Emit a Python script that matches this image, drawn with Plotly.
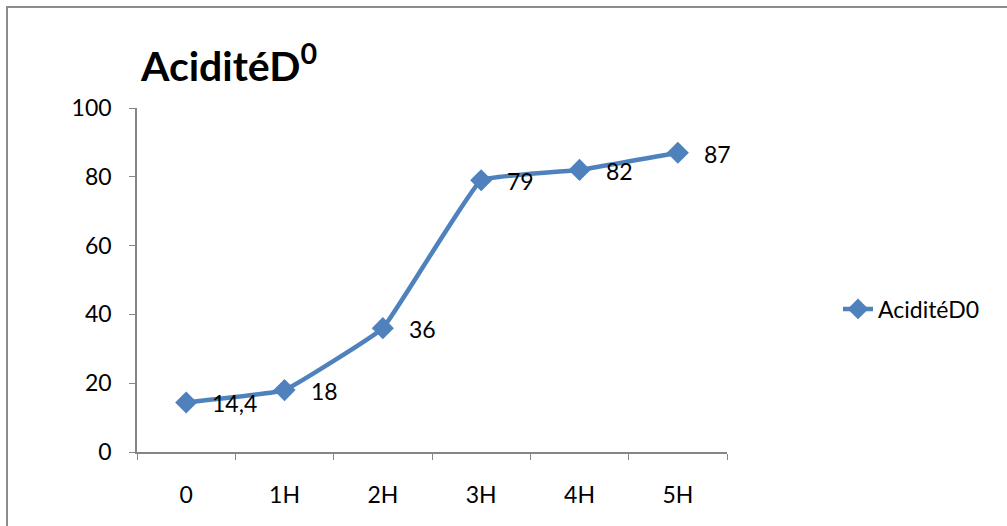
import plotly.graph_objects as go

categories = ["0", "1H", "2H", "3H", "4H", "5H"]
values = [14.4, 18, 36, 79, 82, 87]
series_name = "AciditéD0"
title_text = "AciditéD<sup>0</sup>"
y_ticks = [0, 20, 40, 60, 80, 100]

blue = "#4F81BD"
axis_gray = "#868686"
font_family = "Lato, 'Open Sans', sans-serif"

fig = go.Figure()
fig.add_trace(go.Scatter(
    x=categories, y=values, name=series_name,
    mode="lines+markers",
    line=dict(color=blue, width=4.5, shape="spline", smoothing=0.25),
    marker=dict(symbol="diamond", size=17, color=blue),
))

for c, v in zip(categories, values):
    fig.add_annotation(
        x=c, y=v, text=str(v).replace(".", ","), showarrow=False,
        xanchor="left", yanchor="middle", xshift=24, yshift=-1,
        font=dict(family=font_family, size=23, color="black"),
    )

L, R, T, B = 137, 727, 108, 452
W, H = 1007, 526
pw, ph = R - L, B - T

fig.add_shape(type="rect", xref="paper", yref="paper",
              x0=(7 - L) / pw, x1=(1100 - L) / pw,
              y0=(B - 600) / ph, y1=(B - 7) / ph,
              line=dict(color="#8c8c8c", width=2), fillcolor="rgba(0,0,0,0)")

fig.add_annotation(xref="paper", yref="paper",
                   x=(138 - L) / pw, y=(B - 92) / ph,
                   xanchor="left", yanchor="bottom", showarrow=False,
                   text="<b>" + title_text + "</b>",
                   font=dict(family=font_family, size=41, color="black"))

fig.update_layout(
    width=W, height=H,
    margin=dict(l=L, r=W - R, t=T, b=H - B),
    paper_bgcolor="white", plot_bgcolor="white",
    font=dict(family=font_family, size=23, color="black"),
    showlegend=True,
    legend=dict(x=(838 - L) / pw, y=(B - 309) / ph, xanchor="left", yanchor="middle",
                font=dict(size=23), bgcolor="rgba(0,0,0,0)"),
    xaxis=dict(type="category", showline=True, linecolor=axis_gray, linewidth=1.5,
               ticks="outside", ticklen=6, tickcolor=axis_gray, tickson="boundaries",
               showgrid=False, zeroline=False, range=[-0.5, 5.5], ticklabelstandoff=22),
    yaxis=dict(range=[0, 100], tickvals=y_ticks, showline=True, linecolor=axis_gray,
               linewidth=1.5, ticks="outside", ticklen=6, tickcolor=axis_gray,
               showgrid=False, zeroline=False, ticklabelstandoff=13),
)

fig.write_html("out.html")
